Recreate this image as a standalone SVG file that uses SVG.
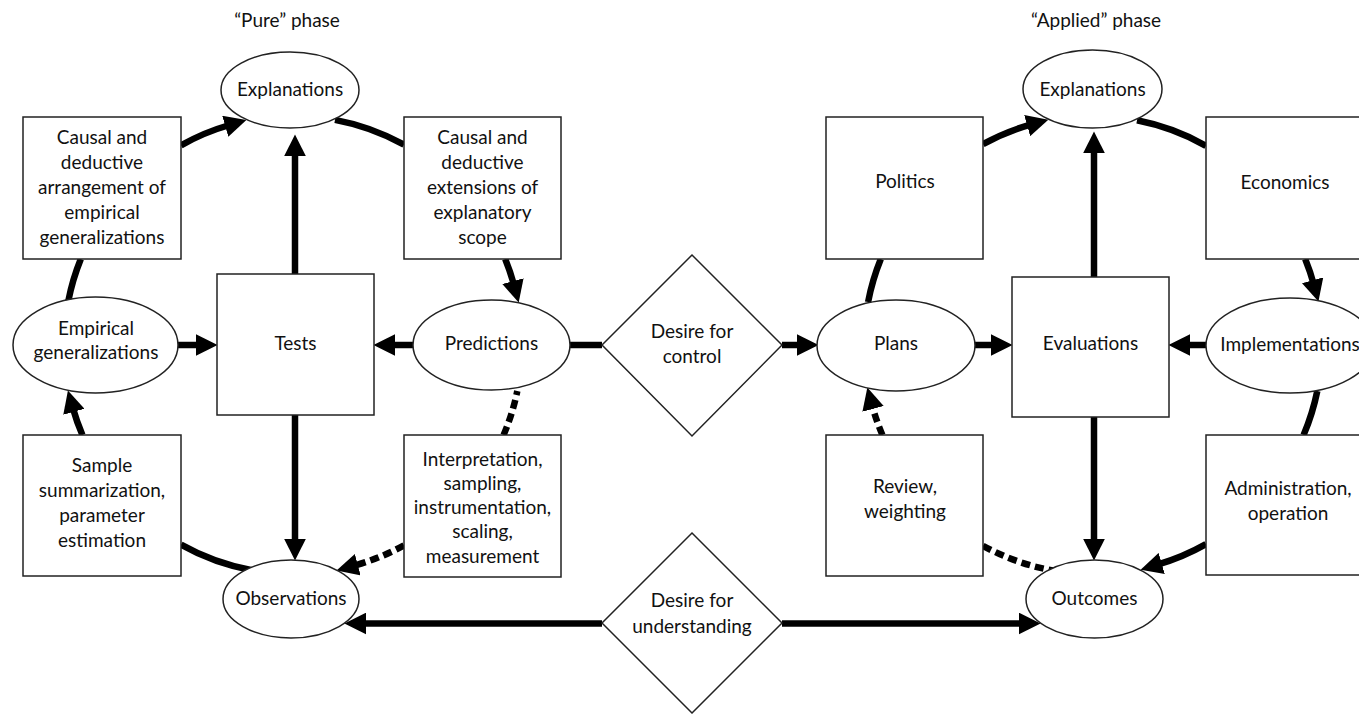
<svg xmlns="http://www.w3.org/2000/svg" width="1359" height="714" viewBox="0 0 1359 714">
<style>
.nd{fill:#fff;stroke:#222;stroke-width:1.5}
.t{font-family:Lato,"Open Sans","DejaVu Sans",sans-serif;font-size:19px;fill:#111;text-anchor:middle}
.c{fill:none;stroke:#000;stroke-width:6.5}
.a{marker-end:url(#ah)}
.d{stroke-dasharray:9 5}
</style>
<defs>
<marker id="ah" markerUnits="userSpaceOnUse" markerWidth="22" markerHeight="22" refX="4" refY="10" orient="auto" viewBox="0 0 20 20">
<path d="M0,0 L20,10 L0,20 z" fill="#000"/>
</marker>
</defs>
<rect width="1359" height="714" fill="#fff"/>
<g id="titles">
<text class="t" x="287" y="27">“Pure” phase</text>
<text class="t" x="1096" y="27">“Applied” phase</text>
</g>
<g id="connectors">
<path class="c a" d="M181,145.3 A229,229 0 0 1 229.5,125"/>
<path class="c" d="M335,119.9 A229,229 0 0 1 404,144.7"/>
<path class="c a" d="M505.2,259 A229,229 0 0 1 514.1,285.4"/>
<path class="c d" d="M503.6,435 A229,229 0 0 0 517.3,391"/>
<path class="c d a" d="M404,545.3 A229,229 0 0 1 353.5,565.8"/>
<path class="c" d="M181,544.7 A229,229 0 0 0 253,570.5"/>
<path class="c a" d="M82.4,435 A229,229 0 0 1 72.7,407.5"/>
<path class="c" d="M80.8,259 A229,229 0 0 0 68.3,301"/>
<line class="c a" x1="295" y1="274" x2="295" y2="152"/>
<line class="c a" x1="295" y1="415" x2="295" y2="543"/>
<line class="c a" x1="178" y1="345" x2="200" y2="345"/>
<line class="c a" x1="413" y1="345" x2="391" y2="345"/>
<line class="c" x1="570" y1="345" x2="602" y2="345"/>
<line class="c a" x1="782" y1="345" x2="801" y2="345"/>
<line class="c a" x1="602" y1="623.5" x2="362" y2="623.5"/>
<line class="c a" x1="782" y1="623.5" x2="1023" y2="623.5"/>
<path class="c a" d="M983,144.2 A229,229 0 0 1 1031.4,124.4"/>
<path class="c" d="M1137,120.3 A229,229 0 0 1 1206,145.8"/>
<path class="c a" d="M1305.2,259 A229,229 0 0 1 1313.8,284.5"/>
<path class="c" d="M1317.3,391 A229,229 0 0 1 1303.6,435"/>
<path class="c a" d="M1206,544.2 A229,229 0 0 1 1157.5,564.7"/>
<path class="c d" d="M983,545.8 A229,229 0 0 0 1057,571.2"/>
<path class="c d a" d="M882.4,435 A229,229 0 0 1 871.9,404.6"/>
<path class="c" d="M880.8,259 A229,229 0 0 0 868.1,302"/>
<line class="c a" x1="1094" y1="277" x2="1094" y2="149"/>
<line class="c a" x1="1094" y1="417" x2="1094" y2="543"/>
<line class="c a" x1="975" y1="345" x2="995" y2="345"/>
<line class="c a" x1="1206" y1="345" x2="1186" y2="345"/>
</g>
<g id="explanations-pure"><ellipse class="nd" cx="290" cy="90" rx="69" ry="38"/><text class="t" x="290" y="96">Explanations</text></g>
<g id="arrangement"><rect class="nd" x="23" y="117" width="158" height="142"/>
<text class="t" x="102" y="144">Causal and</text><text class="t" x="102" y="169">deductive</text><text class="t" x="102" y="194">arrangement of</text><text class="t" x="102" y="219">empirical</text><text class="t" x="102" y="244">generalizations</text></g>
<g id="extensions"><rect class="nd" x="404" y="117" width="157" height="142"/>
<text class="t" x="482.5" y="144">Causal and</text><text class="t" x="482.5" y="169">deductive</text><text class="t" x="482.5" y="194">extensions of</text><text class="t" x="482.5" y="219">explanatory</text><text class="t" x="482.5" y="244">scope</text></g>
<g id="empirical"><ellipse class="nd" cx="95.5" cy="345" rx="82.5" ry="48"/><text class="t" x="96" y="335">Empirical</text><text class="t" x="96" y="359">generalizations</text></g>
<g id="tests"><rect class="nd" x="217" y="274" width="157" height="141"/><text class="t" x="295.5" y="350">Tests</text></g>
<g id="predictions"><ellipse class="nd" cx="491.5" cy="345" rx="78.5" ry="45"/><text class="t" x="491.5" y="350">Predictions</text></g>
<g id="sample"><rect class="nd" x="23" y="435" width="158" height="141"/>
<text class="t" x="102" y="472">Sample</text><text class="t" x="102" y="497">summarization,</text><text class="t" x="102" y="522">parameter</text><text class="t" x="102" y="547">estimation</text></g>
<g id="interpretation"><rect class="nd" x="404" y="435" width="157" height="142"/>
<text class="t" x="482.5" y="466">Interpretation,</text><text class="t" x="482.5" y="490">sampling,</text><text class="t" x="482.5" y="514">instrumentation,</text><text class="t" x="482.5" y="538">scaling,</text><text class="t" x="482.5" y="563">measurement</text></g>
<g id="observations"><ellipse class="nd" cx="291" cy="599" rx="68" ry="39"/><text class="t" x="291" y="605">Observations</text></g>
<g id="control"><polygon class="nd" points="692,255 782,345 692,436 602,345"/><text class="t" x="692" y="338">Desire for</text><text class="t" x="692" y="363">control</text></g>
<g id="understanding"><polygon class="nd" points="692,533 782,623 692,713 602,623"/><text class="t" x="692" y="607">Desire for</text><text class="t" x="692" y="633">understanding</text></g>
<g id="explanations-applied"><ellipse class="nd" cx="1092.5" cy="89" rx="69.5" ry="39"/><text class="t" x="1092.5" y="96">Explanations</text></g>
<g id="politics"><rect class="nd" x="826" y="117" width="157" height="142"/><text class="t" x="905" y="188">Politics</text></g>
<g id="economics"><rect class="nd" x="1206" y="117" width="157" height="142"/><text class="t" x="1285" y="189">Economics</text></g>
<g id="plans"><ellipse class="nd" cx="896" cy="345.5" rx="79" ry="45.5"/><text class="t" x="896" y="350">Plans</text></g>
<g id="evaluations"><rect class="nd" x="1012" y="277" width="157" height="140"/><text class="t" x="1090.5" y="350">Evaluations</text></g>
<g id="implementations"><ellipse class="nd" cx="1290" cy="345.5" rx="84" ry="47.5"/><text class="t" x="1290" y="351">Implementations</text></g>
<g id="review"><rect class="nd" x="826" y="435" width="157" height="141"/><text class="t" x="905" y="493">Review,</text><text class="t" x="905" y="518">weighting</text></g>
<g id="administration"><rect class="nd" x="1206" y="435" width="157" height="140"/><text class="t" x="1288" y="495">Administration,</text><text class="t" x="1288" y="520">operation</text></g>
<g id="outcomes"><ellipse class="nd" cx="1094.5" cy="599" rx="68.5" ry="39"/><text class="t" x="1094.5" y="605">Outcomes</text></g>
</svg>
